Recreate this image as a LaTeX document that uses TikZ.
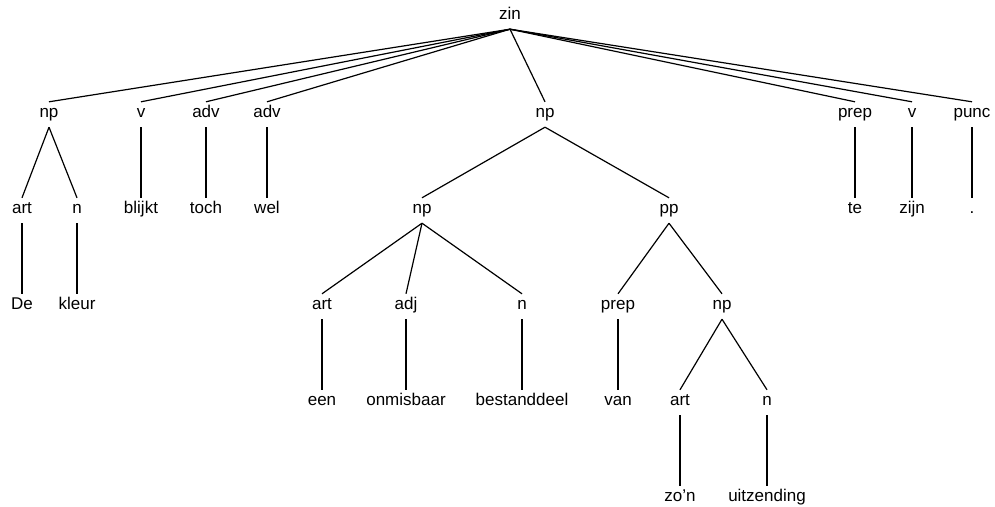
\documentclass[tikz,border=0pt]{standalone}
\usepackage{fontspec}
\setmainfont{Liberation Sans}
\begin{document}
\begin{tikzpicture}[x=1pt,y=-1pt,
  lbl/.style={anchor=base,inner sep=0pt,text height=15pt,text depth=10pt,font=\fontsize{17}{20}\selectfont},
  edge/.style={line width=1.2pt}]
\useasboundingbox (0,0) rectangle (995,506);
% row 0
\node[lbl] (zin) at (510,19) {zin};
% row 1
\node[lbl] (np1) at (49,117) {np};
\node[lbl] (v1) at (141,117) {v};
\node[lbl] (adv1) at (206,117) {adv};
\node[lbl] (adv2) at (267,117) {adv};
\node[lbl] (np2) at (545,117) {np};
\node[lbl] (prep1) at (855,117) {prep};
\node[lbl] (v2) at (912,117) {v};
\node[lbl] (punc) at (972,117) {punc};
% row 2
\node[lbl] (art1) at (22,213) {art};
\node[lbl] (n1) at (77,213) {n};
\node[lbl] (blijkt) at (141,213) {blijkt};
\node[lbl] (toch) at (206,213) {toch};
\node[lbl] (wel) at (267,213) {wel};
\node[lbl] (np3) at (422,213) {np};
\node[lbl] (pp) at (669,213) {pp};
\node[lbl] (te) at (855,213) {te};
\node[lbl] (zijn) at (912,213) {zijn};
\node[lbl] (dot) at (972,213) {.};
% row 3
\node[lbl] (De) at (22,309) {De};
\node[lbl] (kleur) at (77,309) {kleur};
\node[lbl] (art2) at (322,309) {art};
\node[lbl] (adj) at (406,309) {adj};
\node[lbl] (n2) at (522,309) {n};
\node[lbl] (prep2) at (618,309) {prep};
\node[lbl] (np4) at (722,309) {np};
% row 4
\node[lbl] (een) at (322,405) {een};
\node[lbl] (onmisbaar) at (406,405) {onmisbaar};
\node[lbl] (bestanddeel) at (522,405) {bestanddeel};
\node[lbl] (van) at (618,405) {van};
\node[lbl] (art3) at (680,405) {art};
\node[lbl] (n3) at (767,405) {n};
% row 5
\node[lbl] (zon) at (680,501) {zo’n};
\node[lbl] (uitzending) at (767,501) {uitzending};
% edges
\foreach \p/\c in {zin/np1,zin/v1,zin/adv1,zin/adv2,zin/np2,zin/prep1,zin/v2,zin/punc,
  np1/art1,np1/n1,v1/blijkt,adv1/toch,adv2/wel,np2/np3,np2/pp,prep1/te,v2/zijn,punc/dot,
  art1/De,n1/kleur,np3/art2,np3/adj,np3/n2,pp/prep2,pp/np4,
  art2/een,adj/onmisbaar,n2/bestanddeel,prep2/van,np4/art3,np4/n3,
  art3/zon,n3/uitzending}
  \draw[edge] (\p.south) -- (\c.north);
\end{tikzpicture}
\end{document}
